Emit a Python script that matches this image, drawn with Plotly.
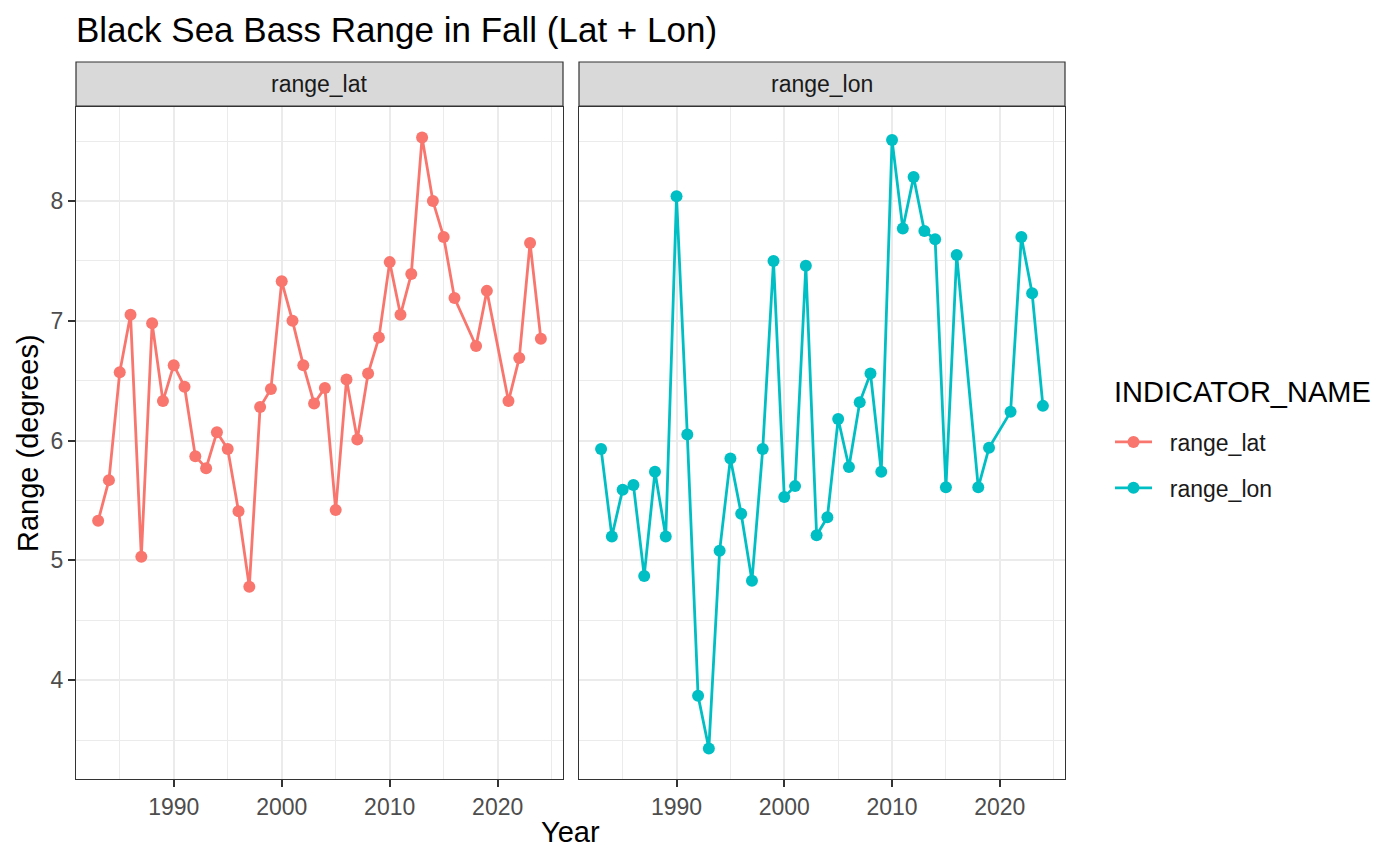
import plotly.graph_objects as go

# data (Black Sea Bass, fall survey)
years = list(range(1983, 2017)) + [2018, 2019, 2021, 2022, 2023, 2024]
range_lat = [5.33, 5.67, 6.57, 7.05, 5.03, 6.98, 6.33, 6.63, 6.45, 5.87,
             5.77, 6.07, 5.93, 5.41, 4.78, 6.28, 6.43, 7.33, 7.00, 6.63,
             6.31, 6.44, 5.42, 6.51, 6.01, 6.56, 6.86, 7.49, 7.05, 7.39,
             8.53, 8.00, 7.70, 7.19, 6.79, 7.25, 6.33, 6.69, 7.65, 6.85]
range_lon = [5.93, 5.20, 5.59, 5.63, 4.87, 5.74, 5.20, 8.04, 6.05, 3.87,
             3.43, 5.08, 5.85, 5.39, 4.83, 5.93, 7.50, 5.53, 5.62, 7.46,
             5.21, 5.36, 6.18, 5.78, 6.32, 6.56, 5.74, 8.51, 7.77, 8.20,
             7.75, 7.68, 5.61, 7.55, 5.61, 5.94, 6.24, 7.70, 7.23, 6.29]
panels = ["range_lat", "range_lon"]
colors = {"range_lat": "#F8766D", "range_lon": "#00BFC4"}

W, H = 1400, 865
OFF = 8  # page body margin
FONT = "Liberation Sans, Arial, sans-serif"

# ggplot-style 5% expansion
def expand(lo, hi, f=0.05):
    d = (hi - lo) * f
    return [lo - d, hi + d]

xr = expand(min(years), max(years))
allv = range_lat + range_lon
yr = expand(min(allv), max(allv))

# panel geometry in page pixels
px_dom = [(76, 563), (579, 1065)]
plot_top, plot_bot = 107, 779
strip_top, strip_bot = 62, 106

def fx(p):
    return (p - OFF) / W

def fy(p):
    return 1 - (p - OFF) / H

fig = go.Figure()
series = {"range_lat": range_lat, "range_lon": range_lon}
for i, name in enumerate(panels):
    sfx = "" if i == 0 else "2"
    fig.add_trace(go.Scatter(
        x=years, y=series[name], name="\u00a0\u00a0" + name, mode="lines+markers",
        legendgroup=name,
        line=dict(color=colors[name], width=2.8),
        marker=dict(color=colors[name], size=12),
        xaxis="x" + sfx, yaxis="y" + sfx,
    ))

axis_common = dict(
    showline=True, mirror=True, linecolor="#333333", linewidth=1.2,
    gridcolor="#EBEBEB", gridwidth=2, zeroline=False,
    ticks="outside", ticklen=7, tickwidth=2, tickcolor="#333333",
    tickfont=dict(family=FONT, size=23, color="#4D4D4D"),
    automargin=False,
)

layout = dict(
    width=W, height=H,
    margin=dict(l=0, r=0, t=0, b=0),
    paper_bgcolor="white", plot_bgcolor="white",
    font=dict(family=FONT, color="black"),
    title=dict(text="Black Sea Bass Range in Fall (Lat + Lon)",
               x=fx(76), xanchor="left", xref="paper",
               y=fy(30), yanchor="middle", yref="container",
               font=dict(family=FONT, size=35, color="black")),
    showlegend=True,
    legend=dict(font=dict(size=23, family=FONT, color="#1A1A1A"),
                x=fx(1110), xanchor="left", y=fy(465), yanchor="middle",
                itemwidth=37, tracegroupgap=13, traceorder="grouped",
                bgcolor="rgba(0,0,0,0)"),
)

for i, (a, b) in enumerate(px_dom):
    sfx = "" if i == 0 else "2"
    layout["xaxis" + sfx] = dict(
        axis_common, domain=[fx(a), fx(b)], range=xr,
        tick0=1990, dtick=10,
        minor=dict(dtick=5, tick0=1985, showgrid=True, gridcolor="#EBEBEB", gridwidth=1, ticks=""),
        anchor="y" + sfx,
    )
    layout["yaxis" + sfx] = dict(
        axis_common, domain=[fy(plot_bot), fy(plot_top)], range=yr,
        tick0=4, dtick=1, showticklabels=(i == 0),
        ticks="outside" if i == 0 else "",
        minor=dict(dtick=0.5, tick0=3.5, showgrid=True, gridcolor="#EBEBEB", gridwidth=1, ticks=""),
        anchor="x" + sfx,
    )
    if i == 1:
        layout["yaxis2"]["matches"] = "y"

fig.update_layout(**layout)

# facet strips
for (a, b), name in zip(px_dom, panels):
    fig.add_shape(type="rect", xref="paper", yref="paper",
                  x0=fx(a), x1=fx(b), y0=fy(strip_bot), y1=fy(strip_top),
                  fillcolor="#D9D9D9", line=dict(color="#333333", width=1.2))
    fig.add_annotation(text=name, xref="paper", yref="paper",
                       x=fx((a + b) / 2), y=fy((strip_top + strip_bot) / 2),
                       showarrow=False, xanchor="center", yanchor="middle",
                       font=dict(family=FONT, size=23, color="#1A1A1A"))

# legend title, axis titles
fig.add_annotation(text="INDICATOR_NAME", xref="paper", yref="paper",
                   x=fx(1112), y=fy(392), showarrow=False,
                   xanchor="left", yanchor="middle",
                   font=dict(family=FONT, size=29, color="black"))
fig.add_annotation(text="Year", xref="paper", yref="paper",
                   x=fx((76 + 1065) / 2), y=fy(832), showarrow=False,
                   xanchor="center", yanchor="middle",
                   font=dict(family=FONT, size=29, color="black"))
fig.add_annotation(text="Range (degrees)", xref="paper", yref="paper",
                   x=fx(28), y=fy(443), showarrow=False, textangle=-90,
                   xanchor="center", yanchor="middle",
                   font=dict(family=FONT, size=29, color="black"))

fig.write_html("out.html")
